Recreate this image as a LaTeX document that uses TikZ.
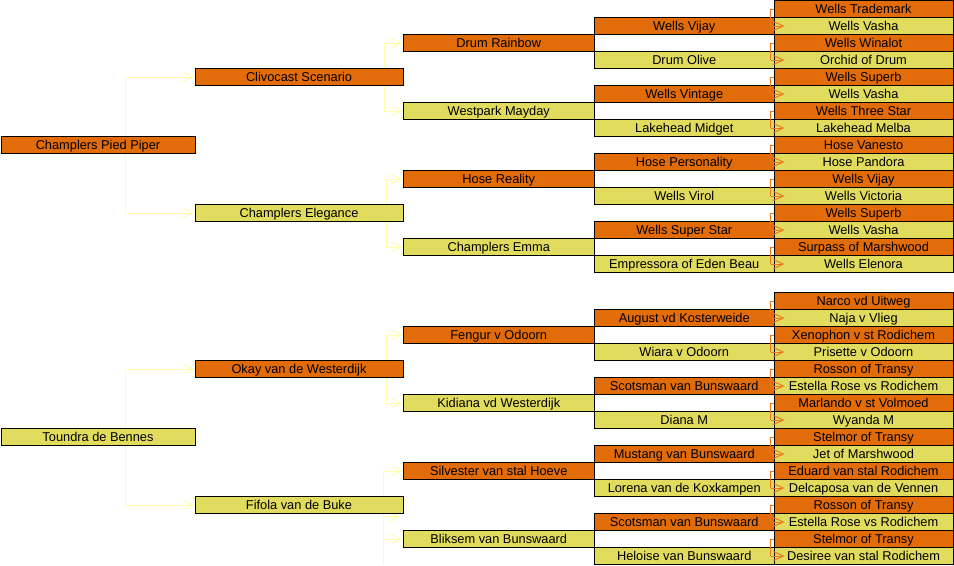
\documentclass[tikz,border=0pt]{standalone}
\usepackage{fontspec}
\setmainfont{Liberation Sans}
\usepackage{xcolor}
\usepackage{tikz}
\usetikzlibrary{positioning,calc,arrows.meta}
\pgfdeclarelayer{background}
\pgfsetlayers{background,main}
\definecolor{sireorange}{RGB}{227,108,10}
\definecolor{damyellow}{RGB}{225,220,93}
\definecolor{paleline}{RGB}{255,255,170}
\definecolor{linkorange}{RGB}{236,120,30}
\newcommand{\pedfont}{\fontsize{12.8pt}{14pt}\selectfont}

\begin{document}
\begin{tikzpicture}[x=1pt,y=-1pt,
    box/.style={draw=black, line width=0.8pt, inner sep=0pt, minimum height=17pt, text height=9.6pt, text depth=0.4pt, font=\pedfont},
    sire/.style={box, fill=sireorange},
    dam/.style={box, fill=damyellow},
    gen1/.style={minimum width=194pt},
    gen2/.style={minimum width=208pt},
    gen3/.style={minimum width=191.5pt},
    gen4/.style={minimum width=179.5pt},
    gen5/.style={minimum width=179pt},
    pale/.style={draw=paleline, line width=1pt, -{Straight Barb[length=10pt,width=9pt]}, to path={|- (\tikztotarget)}},
    link/.style={draw=linkorange, line width=1pt, -{Straight Barb[length=10pt,width=9pt]}, to path={|- (\tikztotarget)}}]

    % first pedigree
    \node[sire,gen1] (t1) at (98,145) {Champlers Pied Piper};
    \node[sire,gen2] (t2a) at (299,77) {Clivocast Scenario};
    \node[dam,gen2] (t2b) at (299,213) {Champlers Elegance};
    \node[sire,gen3] (t3a) at (498.75,43) {Drum Rainbow};
    \node[dam,gen3] (t3b) at (498.75,111) {Westpark Mayday};
    \node[sire,gen3] (t3c) at (498.75,179) {Hose Reality};
    \node[dam,gen3] (t3d) at (498.75,247) {Champlers Emma};
    \node[sire,gen4] (t4a) at (684.25,26) {Wells Vijay};
    \node[dam,gen4] (t4b) at (684.25,60) {Drum Olive};
    \node[sire,gen4] (t4c) at (684.25,94) {Wells Vintage};
    \node[dam,gen4] (t4d) at (684.25,128) {Lakehead Midget};
    \node[sire,gen4] (t4e) at (684.25,162) {Hose Personality};
    \node[dam,gen4] (t4f) at (684.25,196) {Wells Virol};
    \node[sire,gen4] (t4g) at (684.25,230) {Wells Super Star};
    \node[dam,gen4] (t4h) at (684.25,264) {Empressora of Eden Beau};
    \node[sire,gen5] (t5a) at (863.5,9) {Wells Trademark};
    \node[dam,gen5] (t5b) at (863.5,26) {Wells Vasha};
    \node[sire,gen5] (t5c) at (863.5,43) {Wells Winalot};
    \node[dam,gen5] (t5d) at (863.5,60) {Orchid of Drum};
    \node[sire,gen5] (t5e) at (863.5,77) {Wells Superb};
    \node[dam,gen5] (t5f) at (863.5,94) {Wells Vasha};
    \node[sire,gen5] (t5g) at (863.5,111) {Wells Three Star};
    \node[dam,gen5] (t5h) at (863.5,128) {Lakehead Melba};
    \node[sire,gen5] (t5i) at (863.5,145) {Hose Vanesto};
    \node[dam,gen5] (t5j) at (863.5,162) {Hose Pandora};
    \node[sire,gen5] (t5k) at (863.5,179) {Wells Vijay};
    \node[dam,gen5] (t5l) at (863.5,196) {Wells Victoria};
    \node[sire,gen5] (t5m) at (863.5,213) {Wells Superb};
    \node[dam,gen5] (t5n) at (863.5,230) {Wells Vasha};
    \node[sire,gen5] (t5o) at (863.5,247) {Surpass of Marshwood};
    \node[dam,gen5] (t5p) at (863.5,264) {Wells Elenora};

    % second pedigree
    \node[dam,gen1] (b1) at (98,437) {Toundra de Bennes};
    \node[sire,gen2] (b2a) at (299,369) {Okay van de Westerdijk};
    \node[dam,gen2] (b2b) at (299,505) {Fifola van de Buke};
    \node[sire,gen3] (b3a) at (498.75,335) {Fengur v Odoorn};
    \node[dam,gen3] (b3b) at (498.75,403) {Kidiana vd Westerdijk};
    \node[sire,gen3] (b3c) at (498.75,471) {Silvester van stal Hoeve};
    \node[dam,gen3] (b3d) at (498.75,539) {Bliksem van Bunswaard};
    \node[sire,gen4] (b4a) at (684.25,318) {August vd Kosterweide};
    \node[dam,gen4] (b4b) at (684.25,352) {Wiara v Odoorn};
    \node[sire,gen4] (b4c) at (684.25,386) {Scotsman van Bunswaard};
    \node[dam,gen4] (b4d) at (684.25,420) {Diana M};
    \node[sire,gen4] (b4e) at (684.25,454) {Mustang van Bunswaard};
    \node[dam,gen4] (b4f) at (684.25,488) {Lorena van de Koxkampen};
    \node[sire,gen4] (b4g) at (684.25,522) {Scotsman van Bunswaard};
    \node[dam,gen4] (b4h) at (684.25,556) {Heloise van Bunswaard};
    \node[sire,gen5] (b5a) at (863.5,301) {Narco vd Uitweg};
    \node[dam,gen5] (b5b) at (863.5,318) {Naja v Vlieg};
    \node[sire,gen5] (b5c) at (863.5,335) {Xenophon v st Rodichem};
    \node[dam,gen5] (b5d) at (863.5,352) {Prisette v Odoorn};
    \node[sire,gen5] (b5e) at (863.5,369) {Rosson of Transy};
    \node[dam,gen5] (b5f) at (863.5,386) {Estella Rose vs Rodichem};
    \node[sire,gen5] (b5g) at (863.5,403) {Marlando v st Volmoed};
    \node[dam,gen5] (b5h) at (863.5,420) {Wyanda M};
    \node[sire,gen5] (b5i) at (863.5,437) {Stelmor of Transy};
    \node[dam,gen5] (b5j) at (863.5,454) {Jet of Marshwood};
    \node[sire,gen5] (b5k) at (863.5,471) {Eduard van stal Rodichem};
    \node[dam,gen5] (b5l) at (863.5,488) {Delcaposa van de Vennen};
    \node[sire,gen5] (b5m) at (863.5,505) {Rosson of Transy};
    \node[dam,gen5] (b5n) at (863.5,522) {Estella Rose vs Rodichem};
    \node[sire,gen5] (b5o) at (863.5,539) {Stelmor of Transy};
    \node[dam,gen5] (b5p) at (863.5,556) {Desiree van stal Rodichem};

    \coordinate (bstub) at (400,516.7);
    \coordinate (bend) at (383.3,565);

    % pale links behind the boxes
    \begin{pgfonlayer}{background}
        \fill[white] (0,0) rectangle (954,565);
        \path ($(t1.west)+(125,0)$) edge[pale] (t2a.west) edge[pale] (t2b.west);
        \path ($(t2a.east)+(-18.7,0)$) edge[pale] (t3a.west) edge[pale] (t3b.west);
        \path ($(t2b.east)+(-17,0)$) edge[pale] (t3c.west) edge[pale] (t3d.west);
        \path ($(b1.west)+(125,0)$) edge[pale] (b2a.west) edge[pale] (b2b.west);
        \path ($(b2a.east)+(-17,0)$) edge[pale] (b3a.west) edge[pale] (b3b.west);
        \path ($(b2b.east)+(-19.7,0)$) coordinate (bfork) edge[pale] (b3c.west) edge[pale] (bstub) edge[pale] (b3d.west);
        \draw[paleline, line width=1pt] (bfork) -- (bfork |- bend);
    \end{pgfonlayer}

    % orange links into the last column
    \path ($(t4a.east)+(-3.5,0)$) edge[link,-] (t5a.west) edge[link] ($(t5b.west)+(11,0)$);
    \path ($(t4b.east)+(-3.5,0)$) edge[link,-] (t5c.west) edge[link] ($(t5d.west)+(11,0)$);
    \path ($(t4c.east)+(-3.5,0)$) edge[link,-] (t5e.west) edge[link] ($(t5f.west)+(11,0)$);
    \path ($(t4d.east)+(-3.5,0)$) edge[link,-] (t5g.west) edge[link] ($(t5h.west)+(11,0)$);
    \path ($(t4e.east)+(-3.5,0)$) edge[link,-] (t5i.west) edge[link] ($(t5j.west)+(11,0)$);
    \path ($(t4f.east)+(-3.5,0)$) edge[link,-] (t5k.west) edge[link] ($(t5l.west)+(11,0)$);
    \path ($(t4g.east)+(-3.5,0)$) edge[link,-] (t5m.west) edge[link] ($(t5n.west)+(11,0)$);
    \path ($(t4h.east)+(-3.5,0)$) edge[link,-] (t5o.west) edge[link] ($(t5p.west)+(11,0)$);
    \path ($(b4a.east)+(-3.5,0)$) edge[link,-] (b5a.west) edge[link] ($(b5b.west)+(11,0)$);
    \path ($(b4b.east)+(-3.5,0)$) edge[link,-] (b5c.west) edge[link] ($(b5d.west)+(11,0)$);
    \path ($(b4c.east)+(-3.5,0)$) edge[link,-] (b5e.west) edge[link] ($(b5f.west)+(11,0)$);
    \path ($(b4d.east)+(-3.5,0)$) edge[link,-] (b5g.west) edge[link] ($(b5h.west)+(11,0)$);
    \path ($(b4e.east)+(-3.5,0)$) edge[link,-] (b5i.west) edge[link] ($(b5j.west)+(11,0)$);
    \path ($(b4f.east)+(-3.5,0)$) edge[link,-] (b5k.west) edge[link] ($(b5l.west)+(11,0)$);
    \path ($(b4g.east)+(-3.5,0)$) edge[link,-] (b5m.west) edge[link] ($(b5n.west)+(11,0)$);
    \path ($(b4h.east)+(-3.5,0)$) edge[link,-] (b5o.west) edge[link] ($(b5p.west)+(11,0)$);
\end{tikzpicture}
\end{document}
